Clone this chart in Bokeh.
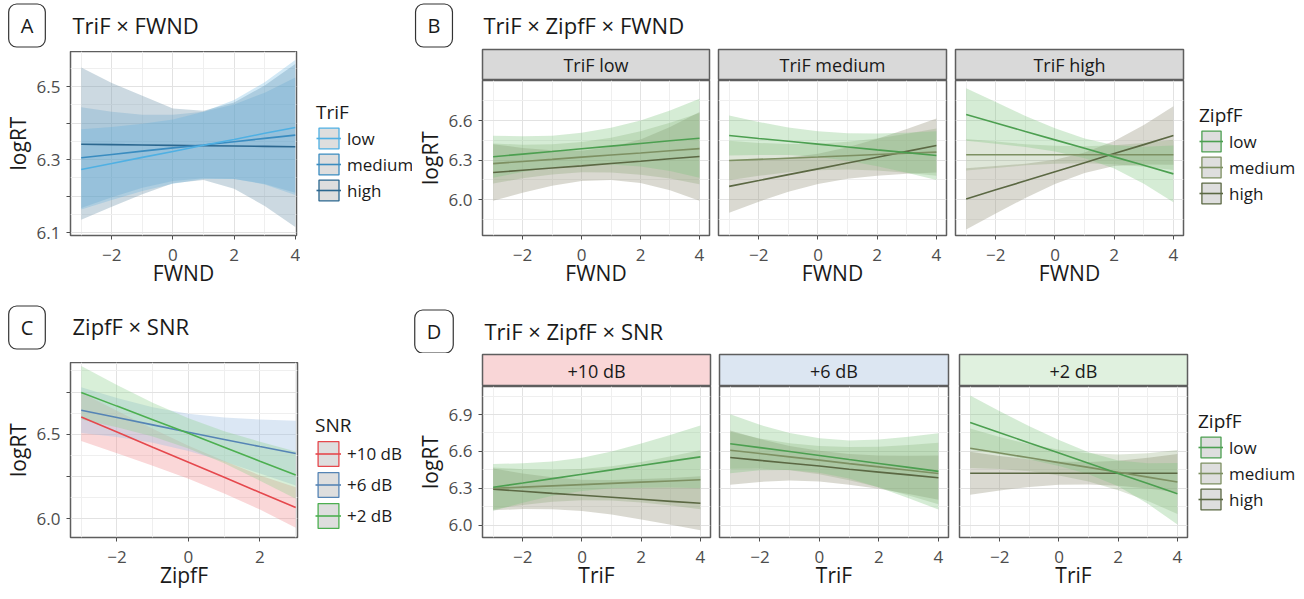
from bokeh.plotting import figure
from bokeh.models import Range1d, LinearAxis, Grid, FixedTicker, Label, Legend, LegendItem, Spacer
from bokeh.layouts import row, column
from bokeh.embed import file_html
from bokeh.resources import INLINE

NAN = float("nan")

# ------------------------------------------------------------------ data
ZIPF_LEVELS = ["low", "medium", "high"]
TRIF_LEVELS = ["low", "medium", "high"]
SNR_LEVELS = ["+10 dB", "+6 dB", "+2 dB"]
FACETS_B = ["TriF low", "TriF medium", "TriF high"]

FWND = [-3, -2, -1, 0, 1, 2, 3, 4]
TRIF = [-3, -2, -1, 0, 1, 2, 3, 4]
ZIPF = [-3, -2, -1, 0, 1, 2, 3]

X_TICKS = [-2, 0, 2, 4]
X_TICK_LABELS = ["\u22122", "0", "2", "4"]
X_MINOR = [-3, -1, 1, 3]
C_X_TICKS = [-2, 0, 2]
C_X_TICK_LABELS = ["\u22122", "0", "2"]

A_Y_TICKS = [6.1, 6.2, 6.3, 6.4, 6.5]
A_Y_TICK_LABELS = ["6.1", "", "6.3", "", "6.5"]
A_Y_MINOR = [6.15, 6.25, 6.35, 6.45, 6.55]
B_Y_TICKS = [6.0, 6.3, 6.6]
B_Y_TICK_LABELS = ["6.0", "6.3", "6.6"]
B_Y_MINOR = [5.85, 6.15, 6.45, 6.75]
C_Y_TICKS = [6.0, 6.25, 6.5, 6.75]
C_Y_TICK_LABELS = ["6.0", "", "6.5", ""]
C_Y_MINOR = [5.875, 6.125, 6.375, 6.625, 6.875]
D_Y_TICKS = [6.0, 6.3, 6.6, 6.9]
D_Y_TICK_LABELS = ["6.0", "6.3", "6.6", "6.9"]
D_Y_MINOR = [6.15, 6.45, 6.75, 7.05]

# Panel A: TriF x FWND
A_FIT = {
    "low":    [6.273, 6.289, 6.306, 6.322, 6.339, 6.355, 6.372, 6.388],
    "medium": [6.305, 6.314, 6.323, 6.332, 6.340, 6.349, 6.358, 6.367],
    "high":   [6.342, 6.341, 6.340, 6.339, 6.338, 6.337, 6.336, 6.335],
}
A_LOWER = {
    "low":    [6.163, 6.189, 6.214, 6.234, 6.247, 6.247, 6.232, 6.203],
    "medium": [6.167, 6.197, 6.223, 6.241, 6.249, 6.247, 6.233, 6.209],
    "high":   [6.135, 6.171, 6.205, 6.235, 6.244, 6.220, 6.173, 6.115],
}
A_UPPER = {
    "low":    [6.383, 6.389, 6.398, 6.410, 6.431, 6.463, 6.512, 6.573],
    "medium": [6.443, 6.431, 6.423, 6.423, 6.431, 6.451, 6.483, 6.525],
    "high":   [6.552, 6.510, 6.475, 6.440, 6.434, 6.456, 6.503, 6.562],
}

# Panel B: TriF x ZipfF x FWND (one dict per TriF facet, keyed by ZipfF)
B_FIT = [
    {"low":    [6.325, 6.345, 6.365, 6.386, 6.406, 6.426, 6.446, 6.466],
     "medium": [6.273, 6.289, 6.305, 6.322, 6.338, 6.354, 6.371, 6.387],
     "high":   [6.205, 6.222, 6.239, 6.256, 6.274, 6.291, 6.310, 6.327]},
    {"low":    [6.486, 6.464, 6.443, 6.421, 6.399, 6.377, 6.356, 6.334],
     "medium": [6.296, 6.305, 6.314, 6.323, 6.333, 6.342, 6.351, 6.360],
     "high":   [6.100, 6.144, 6.189, 6.233, 6.277, 6.321, 6.366, 6.410]},
    {"low":    [6.646, 6.582, 6.517, 6.453, 6.389, 6.324, 6.260, 6.195],
     "medium": [6.340, 6.340, 6.340, 6.340, 6.340, 6.340, 6.340, 6.340],
     "high":   [6.005, 6.074, 6.142, 6.211, 6.280, 6.349, 6.417, 6.486]},
]
B_LOWER = [
    {"low":    [6.165, 6.210, 6.245, 6.264, 6.266, 6.251, 6.216, 6.166],
     "medium": [6.121, 6.161, 6.191, 6.207, 6.206, 6.189, 6.159, 6.117],
     "high":   [5.990, 6.052, 6.104, 6.141, 6.149, 6.126, 6.070, 5.990]},
    {"low":    [6.334, 6.339, 6.338, 6.323, 6.294, 6.252, 6.204, 6.149],
     "medium": [6.146, 6.180, 6.207, 6.223, 6.228, 6.220, 6.203, 6.180],
     "high":   [5.900, 5.984, 6.059, 6.118, 6.157, 6.181, 6.196, 6.205]},
    {"low":    [6.446, 6.424, 6.399, 6.365, 6.314, 6.236, 6.120, 5.980],
     "medium": [6.220, 6.240, 6.260, 6.272, 6.275, 6.268, 6.250, 6.225],
     "high":   [5.772, 5.894, 6.012, 6.119, 6.202, 6.254, 6.267, 6.264]},
]
B_UPPER = [
    {"low":    [6.485, 6.480, 6.485, 6.508, 6.546, 6.601, 6.676, 6.766],
     "medium": [6.425, 6.417, 6.419, 6.437, 6.470, 6.519, 6.583, 6.657],
     "high":   [6.420, 6.392, 6.374, 6.371, 6.399, 6.456, 6.550, 6.664]},
    {"low":    [6.638, 6.589, 6.548, 6.519, 6.504, 6.502, 6.508, 6.519],
     "medium": [6.446, 6.430, 6.421, 6.423, 6.438, 6.464, 6.499, 6.540],
     "high":   [6.300, 6.304, 6.319, 6.348, 6.397, 6.461, 6.536, 6.615]},
    {"low":    [6.846, 6.740, 6.635, 6.541, 6.464, 6.412, 6.400, 6.410],
     "medium": [6.460, 6.440, 6.420, 6.408, 6.405, 6.412, 6.430, 6.455],
     "high":   [6.238, 6.254, 6.272, 6.303, 6.358, 6.444, 6.567, 6.708]},
]

# Panel C: ZipfF x SNR
C_FIT = {
    "+10 dB": [6.603, 6.514, 6.424, 6.335, 6.246, 6.156, 6.067],
    "+6 dB":  [6.643, 6.600, 6.556, 6.512, 6.470, 6.428, 6.387],
    "+2 dB":  [6.748, 6.667, 6.587, 6.506, 6.424, 6.341, 6.259],
}
C_LOWER = {
    "+10 dB": [6.460, 6.389, 6.315, 6.237, 6.150, 6.055, 5.947],
    "+6 dB":  [6.508, 6.485, 6.451, 6.402, 6.340, 6.268, 6.197],
    "+2 dB":  [6.588, 6.542, 6.487, 6.416, 6.329, 6.226, 6.119],
}
C_UPPER = {
    "+10 dB": [6.746, 6.639, 6.533, 6.433, 6.342, 6.257, 6.187],
    "+6 dB":  [6.778, 6.715, 6.661, 6.622, 6.600, 6.588, 6.580],
    "+2 dB":  [6.905, 6.792, 6.687, 6.596, 6.519, 6.456, 6.399],
}

# Panel D: TriF x ZipfF x SNR (one dict per SNR facet, keyed by ZipfF)
D_FIT = [
    {"low":    [6.308, 6.343, 6.379, 6.414, 6.450, 6.485, 6.521, 6.556],
     "medium": [6.300, 6.310, 6.320, 6.330, 6.340, 6.350, 6.360, 6.370],
     "high":   [6.292, 6.276, 6.259, 6.243, 6.227, 6.211, 6.194, 6.178]},
    {"low":    [6.663, 6.631, 6.599, 6.567, 6.534, 6.502, 6.470, 6.438],
     "medium": [6.610, 6.583, 6.556, 6.529, 6.501, 6.474, 6.447, 6.420],
     "high":   [6.550, 6.527, 6.504, 6.481, 6.455, 6.432, 6.409, 6.386]},
    {"low":    [6.835, 6.752, 6.669, 6.587, 6.504, 6.421, 6.339, 6.256],
     "medium": [6.626, 6.587, 6.548, 6.509, 6.470, 6.430, 6.391, 6.352],
     "high":   [6.423, 6.423, 6.423, 6.423, 6.423, 6.423, 6.423, 6.423]},
]
D_LOWER = [
    {"low":    [6.118, 6.183, 6.239, 6.279, 6.300, 6.305, 6.306, 6.301],
     "medium": [6.130, 6.165, 6.190, 6.203, 6.200, 6.185, 6.160, 6.130],
     "high":   [6.122, 6.131, 6.129, 6.116, 6.087, 6.046, 6.004, 5.958]},
    {"low":    [6.423, 6.446, 6.449, 6.427, 6.379, 6.307, 6.220, 6.128],
     "medium": [6.460, 6.461, 6.446, 6.414, 6.366, 6.309, 6.242, 6.170],
     "high":   [6.330, 6.352, 6.364, 6.356, 6.330, 6.297, 6.254, 6.206]},
    {"low":    [6.615, 6.577, 6.534, 6.482, 6.414, 6.316, 6.174, 6.006],
     "medium": [6.466, 6.457, 6.438, 6.404, 6.355, 6.285, 6.196, 6.092],
     "high":   [6.248, 6.283, 6.311, 6.328, 6.331, 6.321, 6.298, 6.266]},
]
D_UPPER = [
    {"low":    [6.498, 6.503, 6.519, 6.549, 6.600, 6.665, 6.736, 6.811],
     "medium": [6.470, 6.455, 6.450, 6.457, 6.480, 6.515, 6.560, 6.610],
     "high":   [6.462, 6.421, 6.389, 6.370, 6.367, 6.376, 6.384, 6.398]},
    {"low":    [6.903, 6.816, 6.749, 6.707, 6.689, 6.697, 6.720, 6.748],
     "medium": [6.760, 6.705, 6.666, 6.644, 6.636, 6.639, 6.652, 6.670],
     "high":   [6.770, 6.702, 6.644, 6.606, 6.580, 6.567, 6.564, 6.566]},
    {"low":    [7.055, 6.927, 6.804, 6.692, 6.594, 6.526, 6.504, 6.506],
     "medium": [6.786, 6.717, 6.658, 6.614, 6.585, 6.575, 6.586, 6.612],
     "high":   [6.598, 6.563, 6.535, 6.518, 6.515, 6.525, 6.548, 6.580]},
]

# ------------------------------------------------------------------ styles
FONT = "Open Sans"
TEXT = "#1a1a1a"
TICK_TEXT = "#4d4d4d"
BORDER = "#5e5e5e"
GRID_MAJOR = "#e2e2e2"
GRID_MINOR = "#efefef"
KEY_FILL = "#dedede"

A_LINE = {"low": "#4fb0e3", "medium": "#3a8cc0", "high": "#2b678f"}
A_FILL = {"low": "#5aaedc", "medium": "#5b9fc9", "high": "#7f9fb5"}
A_ALPHA = {"low": 0.27, "medium": 0.27, "high": 0.40}
G_LINE = {"low": "#4c9f50", "medium": "#7d9062", "high": "#5b6843"}
G_FILL = {"low": "#7cc47c", "medium": "#7d9a64", "high": "#a3a08c"}
G_ALPHA = {"low": 0.32, "medium": 0.25, "high": 0.40}
C_LINE = {"+10 dB": "#e5484d", "+6 dB": "#5584b5", "+2 dB": "#4caf50"}
C_FILL = {"+10 dB": "#f08c90", "+6 dB": "#a6c2e3", "+2 dB": "#8fd18f"}
C_ALPHA = {"+10 dB": 0.35, "+6 dB": 0.40, "+2 dB": 0.35}
STRIP_B = "#d9d9d9"
STRIP_D = ["#f9d6d7", "#dce6f2", "#e0f1df"]


def blank(w, h, xr=(0, 1), yr=(0, 1)):
    f = figure(width=w, height=h, x_range=Range1d(*xr), y_range=Range1d(*yr),
               x_axis_type=None, y_axis_type=None, toolbar_location=None,
               output_backend="svg", min_border=0)
    f.outline_line_color = None
    return f


def style_axis(ax, tick_standoff, label_standoff):
    ax.axis_line_color = None
    ax.major_tick_line_color = "#4d4d4d"
    ax.major_tick_line_width = 1
    ax.major_tick_in = 0
    ax.major_tick_out = 4
    ax.minor_tick_line_color = None
    ax.major_label_text_font = FONT
    ax.major_label_text_font_size = "17px"
    ax.major_label_text_color = TICK_TEXT
    ax.major_label_standoff = tick_standoff
    ax.axis_label_text_font = FONT
    ax.axis_label_text_font_size = "21px"
    ax.axis_label_text_font_style = "normal"
    ax.axis_label_text_color = TEXT
    ax.axis_label_standoff = label_standoff


def panel(w, h, ml, mr, mb, xr, yr, xt, xtl, xmin, yt, ytl, ymin, xlabel, ylabel):
    p = figure(width=w, height=h, x_range=Range1d(*xr), y_range=Range1d(*yr),
               x_axis_type=None, y_axis_type=None, toolbar_location=None,
               output_backend="svg", min_border_left=ml, min_border_right=mr,
               min_border_top=0, min_border_bottom=mb)
    p.outline_line_color = BORDER
    p.outline_line_width = 1.5
    p.outline_line_alpha = 1.0
    p.add_layout(Grid(dimension=0, ticker=FixedTicker(ticks=xt, minor_ticks=xmin),
                      grid_line_color=GRID_MAJOR, minor_grid_line_color=GRID_MINOR))
    p.add_layout(Grid(dimension=1, ticker=FixedTicker(ticks=yt, minor_ticks=ymin),
                      grid_line_color=GRID_MAJOR, minor_grid_line_color=GRID_MINOR))
    xa = LinearAxis(ticker=FixedTicker(ticks=xt), axis_label=xlabel,
                    major_label_overrides=dict(zip(xt, xtl)))
    style_axis(xa, 9, -5)
    p.add_layout(xa, "below")
    if ylabel:
        ya = LinearAxis(ticker=FixedTicker(ticks=yt), axis_label=ylabel,
                        major_label_overrides=dict(zip(yt, ytl)))
        style_axis(ya, 6, 2)
        p.add_layout(ya, "left")
    return p


def strip(w, h, ml, mr, text, fill):
    s = figure(width=w, height=h, x_range=Range1d(0, 1), y_range=Range1d(0, 1),
               x_axis_type=None, y_axis_type=None, toolbar_location=None,
               output_backend="svg", min_border_left=ml, min_border_right=mr,
               min_border_top=1, min_border_bottom=0)
    s.background_fill_color = fill
    s.outline_line_color = BORDER
    s.outline_line_width = 1.5
    s.add_layout(Label(x=0.5, y=0.5, text=text, text_align="center", text_baseline="middle",
                       text_font=FONT, text_font_size="18px", text_color=TEXT))
    return s


def header(w, h, letter, title, bx, by, tx, ty):
    f = blank(w, h, (0, w), (0, h))
    f.add_layout(Label(x=bx, y=by, text=letter,
                       text_align="center", text_baseline="middle", text_font=FONT,
                       text_font_size="20px", text_color=TEXT, background_fill_color="white",
                       border_line_color="#333333", border_line_width=1.2,
                       border_radius=8, padding=(12, 8)))
    f.add_layout(Label(x=tx, y=ty, text=title,
                       text_align="left", text_baseline="middle", text_font=FONT,
                       text_font_size="22px", text_color=TEXT))
    return f


def draw(p, x, fit, lower, upper, keys, line_c, fill_c, alpha):
    for k in keys:
        p.varea(x=x, y1=lower[k], y2=upper[k], fill_color=fill_c[k], fill_alpha=alpha[k])
    for k in keys:
        p.line(x, fit[k], line_color=line_c[k], line_width=1.6)


def legend_block(w, h, top, title, keys, line_c, left, gw, gh):
    f = blank(w, h - top)
    items = []
    for k in keys:
        box = f.rect(x=[NAN], y=[NAN], width=1, height=1, fill_color=KEY_FILL,
                     line_color=line_c[k], line_width=1.3)
        ln = f.line(x=[NAN], y=[NAN], line_color=line_c[k], line_width=1.6)
        items.append(LegendItem(label=k, renderers=[box, ln]))
    lg = Legend(items=items, title=title, location="top_left", glyph_width=gw, glyph_height=gh,
                spacing=0, padding=0, margin=left, label_standoff=6,
                border_line_color=None, background_fill_alpha=0,
                label_text_font=FONT, label_text_font_size="17px", label_text_color=TEXT,
                title_text_font=FONT, title_text_font_size="19px", title_text_color=TEXT,
                title_text_font_style="normal", title_standoff=0)
    f.add_layout(lg)
    return column(Spacer(width=w, height=top - left), f)


# ------------------------------------------------------------------ panel A
hA = header(412, 51, "A", "TriF \u00d7 FWND", 26.5, 26, 72, 27)
pA = panel(300, 245, 70, 4, 61, (-3.35, 4.04), (6.092, 6.596),
           X_TICKS, X_TICK_LABELS, X_MINOR, A_Y_TICKS, A_Y_TICK_LABELS, A_Y_MINOR,
           "FWND", "logRT")
draw(pA, FWND, A_FIT, A_LOWER, A_UPPER, ["high", "medium", "low"], A_LINE, A_FILL, A_ALPHA)
lA = legend_block(112, 245, 48, "TriF", TRIF_LEVELS, A_LINE, 16, 25, 26)
blockA = column(hA, row(pA, lA))

# ------------------------------------------------------------------ panel B
hB = header(884, 48, "B", "TriF \u00d7 ZipfF \u00d7 FWND", 21.5, 23, 71, 24)
B_W = [(301, 70, 4), (237, 5, 4), (237, 5, 4)]
colsB = []
for i, (w, ml, mr) in enumerate(B_W):
    s = strip(w, 32, ml, mr, FACETS_B[i], STRIP_B)
    p = panel(w, 216, ml, mr, 61, (-3.36, 4.34), (5.727, 6.904),
              X_TICKS, X_TICK_LABELS, X_MINOR, B_Y_TICKS, B_Y_TICK_LABELS, B_Y_MINOR,
              "FWND", "logRT" if i == 0 else None)
    draw(p, FWND, B_FIT[i], B_LOWER[i], B_UPPER[i], ["high", "medium", "low"],
         G_LINE, G_FILL, G_ALPHA)
    colsB.append(column(s, p))
lB = legend_block(109, 248, 54, "ZipfF", ZIPF_LEVELS, G_LINE, 12, 24, 26)
blockB = column(hB, row(*colsB, lB))

# ------------------------------------------------------------------ panel C
hC = header(412, 66, "C", "ZipfF \u00d7 SNR", 26.5, 35, 72, 37)
pC = panel(300, 229, 70, 3, 49, (-3.30, 3.05), (5.89, 6.925),
           C_X_TICKS, C_X_TICK_LABELS, X_MINOR, C_Y_TICKS, C_Y_TICK_LABELS, C_Y_MINOR,
           "ZipfF", "logRT")
draw(pC, ZIPF, C_FIT, C_LOWER, C_UPPER, SNR_LEVELS, C_LINE, C_FILL, C_ALPHA)
lC = legend_block(112, 229, 50, "SNR", SNR_LEVELS, C_LINE, 15, 26, 31)
blockC = column(hC, row(pC, lC))

# ------------------------------------------------------------------ panel D
hD = header(884, 57, "D", "TriF \u00d7 ZipfF \u00d7 SNR", 21.5, 22, 72, 23)
D_W = [(302, 70, 4), (238, 5, 4), (239, 7, 4)]
colsD = []
for i, (w, ml, mr) in enumerate(D_W):
    s = strip(w, 33, ml, mr, SNR_LEVELS[i], STRIP_D[i])
    p = panel(w, 205, ml, mr, 48, (-3.36, 4.34), (5.90, 7.128),
              X_TICKS, X_TICK_LABELS, X_MINOR, D_Y_TICKS, D_Y_TICK_LABELS, D_Y_MINOR,
              "TriF", "logRT" if i == 0 else None)
    draw(p, TRIF, D_FIT[i], D_LOWER[i], D_UPPER[i], ["high", "medium", "low"],
         G_LINE, G_FILL, G_ALPHA)
    colsD.append(column(s, p))
lD = legend_block(105, 238, 55, "ZipfF", ZIPF_LEVELS, G_LINE, 7, 25, 26)
blockD = column(hD, row(*colsD, lD))

page = column(row(blockA, blockB), row(blockC, blockD))
open("out.html", "w").write(file_html(page, INLINE, title="logRT effects"))
